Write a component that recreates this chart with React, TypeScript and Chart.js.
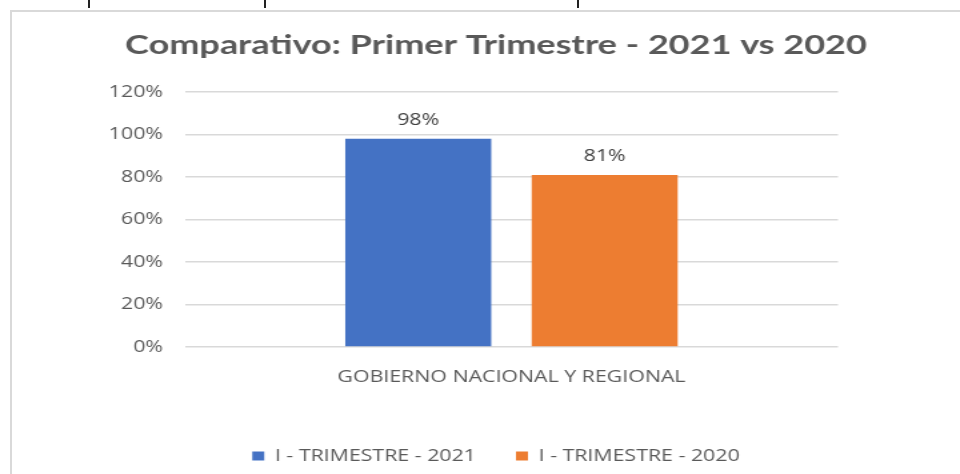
import React, { useEffect, useRef } from "react";
import { Chart, registerables } from "chart.js";

Chart.register(...registerables);

// ---- data ----
const categories = ["GOBIERNO NACIONAL Y REGIONAL"];
const seriesNames = ["I - TRIMESTRE - 2021", "I - TRIMESTRE - 2020"];
const values2021 = [98];
const values2020 = [81];
const seriesColors = ["#4472C4", "#ED7D31"];
const yMin = 0;
const yMax = 120;
const yStep = 20;
const titleText = "Comparativo: Primer Trimestre - 2021 vs 2020";

// canvas is drawn at W internal px and shown stretched horizontally (like the reference)
const W = 744;
const H = 474;
const SX = 4 / 3;

const valueLabels = {
  id: "valueLabels",
  afterDatasetsDraw(chart: any) {
    const ctx = chart.ctx;
    ctx.save();
    ctx.font = "16px 'Open Sans'";
    ctx.fillStyle = "#404040";
    ctx.textAlign = "center";
    ctx.textBaseline = "middle";
    chart.data.datasets.forEach((ds: any, i: number) => {
      const meta = chart.getDatasetMeta(i);
      meta.data.forEach((el: any, j: number) => {
        ctx.fillText(ds.data[j] + "%", el.x, el.y - 18.5);
      });
    });
    ctx.restore();
  },
};

export default function App() {
  const ref = useRef<HTMLCanvasElement | null>(null);

  useEffect(() => {
    if (!ref.current) return;
    Chart.defaults.font.family = "'Open Sans', sans-serif";
    const chart = new Chart(ref.current, {
      type: "bar",
      data: {
        labels: categories,
        datasets: [
          {
            label: seriesNames[0],
            data: values2021,
            backgroundColor: seriesColors[0],
            borderWidth: 0,
            barPercentage: 0.783,
            categoryPercentage: 0.571,
          },
          {
            label: seriesNames[1],
            data: values2020,
            backgroundColor: seriesColors[1],
            borderWidth: 0,
            barPercentage: 0.783,
            categoryPercentage: 0.571,
          },
        ],
      },
      options: {
        responsive: false,
        animation: false,
        devicePixelRatio: 1,
        layout: { padding: { top: 0, bottom: 0, left: 0, right: 0 } },
        plugins: {
          title: {
            display: true,
            text: titleText,
            color: "#595959",
            font: { family: "Lato", size: 27, weight: "bold" },
            padding: { top: 29, bottom: 30.6 },
          },
          legend: {
            display: true,
            position: "bottom",
            labels: {
              boxWidth: 9,
              boxHeight: 9,
              padding: 30,
              color: "#595959",
              font: { size: 16 },
            },
          },
          tooltip: { enabled: false },
        },
        scales: {
          x: {
            grid: { display: false },
            border: { display: false },
            ticks: { color: "#595959", font: { size: 16 }, padding: 13 },
            afterFit: (s: any) => {
              s.height = 71;
            },
          },
          y: {
            position: "left",
            min: yMin,
            max: yMax,
            grid: { color: "#d9d9d9", lineWidth: 1.5, drawTicks: false },
            border: { display: false },
            ticks: {
              stepSize: yStep,
              color: "#595959",
              font: { size: 16 },
              padding: 16.5,
              callback: (v: any) => v + "%",
            },
            afterFit: (s: any) => {
              s.width = 138.75;
            },
          },
          yR: {
            position: "right",
            display: true,
            grid: { display: false },
            border: { display: false },
            ticks: { display: false },
            afterFit: (s: any) => {
              s.width = 115.5;
            },
          },
        },
      },
      plugins: [valueLabels],
    } as any);
    return () => chart.destroy();
  }, []);

  const marks = [88, 264, 577];

  return (
    <div
      style={{
        position: "fixed",
        left: 0,
        top: 0,
        width: 960,
        height: 474,
        overflow: "hidden",
        background: "#ffffff",
      }}
    >
      {marks.map((x) => (
        <div
          key={x}
          style={{
            position: "absolute",
            left: x,
            top: 0,
            width: 2,
            height: 8,
            background: "#222",
          }}
        />
      ))}
      <div
        style={{
          position: "absolute",
          left: 10,
          top: 10,
          width: 980,
          height: 500,
          borderLeft: "2px solid #d9d9d9",
          borderTop: "2px solid #d9d9d9",
        }}
      />
      <canvas
        ref={ref}
        width={W}
        height={H}
        style={{
          position: "absolute",
          left: 0,
          top: 0,
          width: W * SX + "px",
          height: H + "px",
        }}
      />
    </div>
  );
}
